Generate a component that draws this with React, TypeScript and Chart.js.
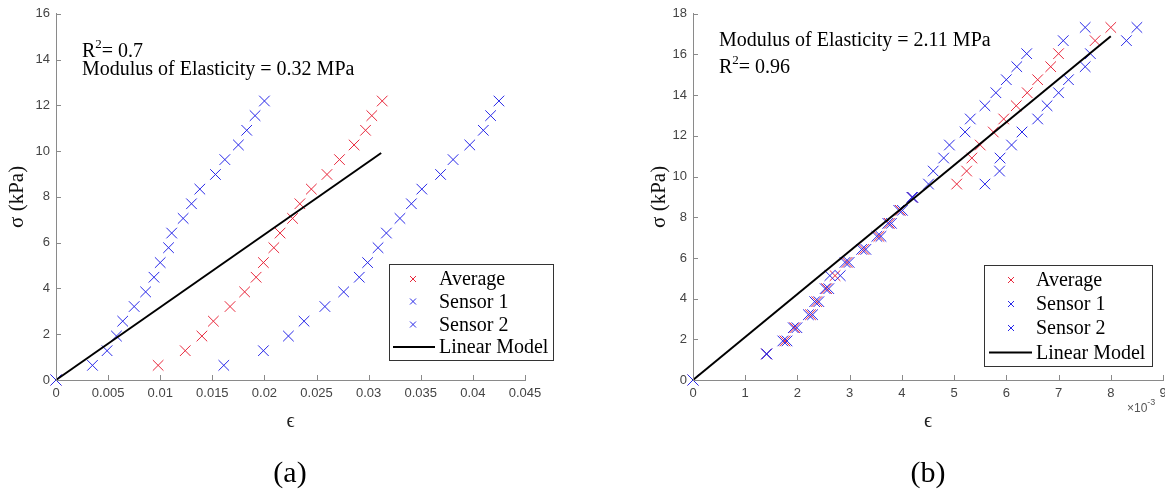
import React, { useEffect, useRef } from 'react';
import { Chart, registerables } from 'chart.js';

Chart.register(...registerables);

// ---------------- Data: panel (a) ----------------
const STRESS_A = [0, 0.64, 1.28, 1.92, 2.57, 3.21, 3.85, 4.49, 5.13, 5.78, 6.42, 7.06, 7.70, 8.34, 8.98, 9.63, 10.27, 10.91, 11.55, 12.19];
const STRAIN_AVG_A = [0, 0.0098, 0.0124, 0.0140, 0.0151, 0.0167, 0.0181, 0.0192, 0.0199, 0.0209, 0.0215, 0.0227, 0.0234, 0.0245, 0.0260, 0.0272, 0.0286, 0.0297, 0.0303, 0.0313];
const STRAIN_S1_A = [0, 0.0035, 0.0049, 0.0058, 0.0064, 0.0075, 0.0086, 0.0094, 0.0100, 0.0108, 0.0111, 0.0122, 0.0130, 0.0138, 0.0153, 0.0162, 0.0175, 0.0183, 0.0191, 0.0200];
const STRAIN_S2_A = [0, 0.0161, 0.0199, 0.0223, 0.0238, 0.0258, 0.0276, 0.0291, 0.0299, 0.0309, 0.0317, 0.0330, 0.0341, 0.0351, 0.0369, 0.0381, 0.0397, 0.0410, 0.0417, 0.0425];
const FIT_STRAIN_A = [0, 0.0312];
const FIT_STRESS_A = [0, 9.92];
const X_TICKS_A = [0, 0.005, 0.01, 0.015, 0.02, 0.025, 0.03, 0.035, 0.04, 0.045];
const Y_TICKS_A = [0, 2, 4, 6, 8, 10, 12, 14, 16];

// ---------------- Data: panel (b) (strain in units of 10^-3) ----------------
const STRESS_B = [0, 1.28, 1.92, 2.57, 3.21, 3.85, 4.49, 5.13, 5.78, 6.42, 7.06, 7.70, 8.34, 8.98, 9.63, 10.27, 10.91, 11.55, 12.19, 12.83, 13.48, 14.12, 14.76, 15.40, 16.04, 16.68, 17.33];
const STRAIN_AVG_B = [0, 1.41, 1.76, 1.95, 2.25, 2.37, 2.56, 2.72, 2.95, 3.27, 3.56, 3.76, 3.97, 4.20, 5.05, 5.24, 5.34, 5.50, 5.75, 5.95, 6.19, 6.40, 6.60, 6.85, 7.00, 7.70, 8.00];
const STRAIN_S1_B = [0, 1.41, 1.72, 1.92, 2.21, 2.33, 2.53, 2.62, 2.91, 3.23, 3.52, 3.73, 3.94, 4.19, 4.51, 4.60, 4.80, 4.91, 5.21, 5.31, 5.59, 5.80, 6.00, 6.20, 6.39, 7.09, 7.51];
const STRAIN_S2_B = [0, 1.41, 1.80, 1.99, 2.29, 2.41, 2.60, 2.82, 2.99, 3.31, 3.60, 3.80, 4.01, 4.21, 5.59, 5.87, 5.88, 6.10, 6.30, 6.60, 6.78, 7.00, 7.19, 7.51, 7.61, 8.30, 8.50];
const FIT_STRAIN_B = [0, 8.0];
const FIT_STRESS_B = [0, 16.9];
const X_TICKS_B = [0, 1, 2, 3, 4, 5, 6, 7, 8, 9];
const Y_TICKS_B = [0, 2, 4, 6, 8, 10, 12, 14, 16, 18];

const LEGEND_LABELS = ['Average', 'Sensor 1', 'Sensor 2', 'Linear Model'];
const Y_TITLE = 'σ (kPa)';
const X_TITLE = 'ϵ';

// ---------------- Styles ----------------
const RED = 'rgb(232,40,60)';
const BLUE = 'rgb(40,40,232)';
const AXIS_COLOR = '#8a8a8a';
const TICK_COLOR = '#444';
const SERIF = '"Liberation Serif", "DejaVu Serif", "Times New Roman", serif';
const SANS = '"Liberation Sans", Arial, sans-serif';

type Seg = { t: string; sup?: boolean };
type Ann = { dx: number; y: number; segs: Seg[] };
type LegendSpec = { box: [number, number, number, number]; rows: number[]; markerX: number; lineX: [number, number]; textX: number };

function drawSegs(ctx: CanvasRenderingContext2D, x: number, y: number, segs: Seg[], size: number, supSize: number, rise: number) {
  let cx = x;
  for (const s of segs) {
    ctx.font = `${s.sup ? supSize : size}px ${SERIF}`;
    ctx.fillText(s.t, cx, s.sup ? y - rise : y);
    cx += ctx.measureText(s.t).width;
  }
}

function drawX(ctx: CanvasRenderingContext2D, x: number, y: number, h: number) {
  ctx.moveTo(x - h, y - h);
  ctx.lineTo(x + h, y + h);
  ctx.moveTo(x + h, y - h);
  ctx.lineTo(x - h, y + h);
}

function makeDecor(anns: Ann[], legend: LegendSpec, exponent: boolean) {
  return {
    id: 'decor',
    afterDraw(chart: any) {
      const ctx: CanvasRenderingContext2D = chart.ctx;
      const { left, bottom } = chart.chartArea;
      const xs = chart.scales.x;
      const ys = chart.scales.y;
      ctx.save();
      // inward tick marks
      ctx.strokeStyle = AXIS_COLOR;
      ctx.lineWidth = 1;
      ctx.beginPath();
      xs.ticks.forEach((t: any) => {
        const px = Math.round(xs.getPixelForValue(t.value)) + 0.5;
        ctx.moveTo(px, bottom);
        ctx.lineTo(px, bottom - 5);
      });
      ys.ticks.forEach((t: any) => {
        const py = Math.round(ys.getPixelForValue(t.value)) + 0.5;
        ctx.moveTo(left, py);
        ctx.lineTo(left + 5, py);
      });
      ctx.stroke();

      // annotations
      ctx.fillStyle = '#000';
      ctx.textBaseline = 'alphabetic';
      ctx.textAlign = 'left';
      anns.forEach((a) => drawSegs(ctx, left + a.dx, a.y, a.segs, 20, 13, 9));

      // exponent label
      if (exponent) {
        ctx.fillStyle = '#555';
        ctx.font = `12px ${SANS}`;
        const ex = chart.chartArea.right - 36;
        ctx.fillText('×10', ex, 412);
        const w = ctx.measureText('×10').width;
        ctx.font = `9px ${SANS}`;
        ctx.fillText('-3', ex + w, 405);
      }

      // legend
      const [x1, y1, x2, y2] = legend.box;
      ctx.fillStyle = '#fff';
      ctx.fillRect(x1, y1, x2 - x1, y2 - y1);
      ctx.strokeStyle = '#333';
      ctx.lineWidth = 1;
      ctx.strokeRect(x1 + 0.5, y1 + 0.5, x2 - x1, y2 - y1);
      const colors = [RED, BLUE, BLUE];
      legend.rows.forEach((ry, i) => {
        if (i < 3) {
          ctx.strokeStyle = colors[i];
          ctx.lineWidth = 1;
          ctx.beginPath();
          drawX(ctx, legend.markerX, ry, 3);
          ctx.stroke();
        } else {
          ctx.strokeStyle = '#000';
          ctx.lineWidth = 2;
          ctx.beginPath();
          ctx.moveTo(legend.lineX[0], ry);
          ctx.lineTo(legend.lineX[1], ry);
          ctx.stroke();
        }
        ctx.fillStyle = '#000';
        ctx.font = `20px ${SERIF}`;
        ctx.textBaseline = 'middle';
        ctx.fillText(LEGEND_LABELS[i], legend.textX, ry + 1);
      });
      ctx.restore();
    },
  };
}

function crossSet(label: string, xs: number[], ys: number[], color: string, order: number) {
  return {
    label,
    data: xs.map((x, i) => ({ x, y: ys[i] })),
    showLine: false,
    pointStyle: 'crossRot',
    pointRadius: 7.5,
    pointHoverRadius: 7.5,
    pointBorderWidth: 1,
    pointBorderColor: color,
    pointBackgroundColor: 'rgba(0,0,0,0)',
    borderColor: color,
    backgroundColor: color,
    clip: false,
    order,
  };
}

type PanelSpec = {
  stress: number[]; avg: number[]; s1: number[]; s2: number[];
  fitX: number[]; fitY: number[];
  xTicks: number[]; yTicks: number[];
  yAxisWidth: number; padRight: number; yTitlePad: number;
  anns: Ann[]; legend: LegendSpec; exponent: boolean;
};

function buildConfig(p: PanelSpec): any {
  const fmt = (v: any) => String(parseFloat(Number(v).toFixed(4)));
  return {
    type: 'scatter',
    data: {
      datasets: [
        crossSet(LEGEND_LABELS[0], p.avg, p.stress, RED, 3),
        crossSet(LEGEND_LABELS[1], p.s1, p.stress, BLUE, 2),
        crossSet(LEGEND_LABELS[2], p.s2, p.stress, BLUE, 1),
        {
          label: LEGEND_LABELS[3],
          data: p.fitX.map((x, i) => ({ x, y: p.fitY[i] })),
          showLine: true,
          borderColor: '#000',
          borderWidth: 2,
          pointRadius: 0,
          clip: false,
          order: 0,
        },
      ],
    },
    options: {
      responsive: false,
      animation: false,
      events: [],
      layout: { padding: { left: 0, right: p.padRight, top: 11, bottom: 0 } },
      plugins: { legend: { display: false }, tooltip: { enabled: false } },
      scales: {
        x: {
          type: 'linear',
          min: p.xTicks[0],
          max: p.xTicks[p.xTicks.length - 1],
          afterBuildTicks: (s: any) => { s.ticks = p.xTicks.map((v) => ({ value: v })); },
          afterFit: (s: any) => { s.height = 121; },
          grid: { display: false, drawTicks: false },
          border: { display: true, color: AXIS_COLOR, width: 1 },
          ticks: { autoSkip: false, maxRotation: 0, padding: 6, color: TICK_COLOR, font: { family: SANS, size: 13 }, callback: fmt },
          title: { display: true, text: X_TITLE, color: '#222', font: { family: SERIF, size: 20 }, padding: { top: 0, bottom: 67 } },
        },
        y: {
          type: 'linear',
          min: p.yTicks[0],
          max: p.yTicks[p.yTicks.length - 1],
          afterBuildTicks: (s: any) => { s.ticks = p.yTicks.map((v) => ({ value: v })); },
          afterFit: (s: any) => { s.width = p.yAxisWidth; },
          grid: { display: false, drawTicks: false },
          border: { display: true, color: AXIS_COLOR, width: 1 },
          ticks: { autoSkip: false, padding: 6, color: TICK_COLOR, font: { family: SANS, size: 13 }, callback: fmt },
          title: { display: true, text: Y_TITLE, color: '#111', font: { family: SERIF, size: 21 }, padding: { top: p.yTitlePad, bottom: 0 } },
        },
      },
    },
    plugins: [makeDecor(p.anns, p.legend, p.exponent)],
  };
}

const PANEL_A: PanelSpec = {
  stress: STRESS_A, avg: STRAIN_AVG_A, s1: STRAIN_S1_A, s2: STRAIN_S2_A,
  fitX: FIT_STRAIN_A, fitY: FIT_STRESS_A,
  xTicks: X_TICKS_A, yTicks: Y_TICKS_A,
  yAxisWidth: 56, padRight: 55, yTitlePad: 5,
  anns: [
    { dx: 26, y: 57, segs: [{ t: 'R' }, { t: '2', sup: true }, { t: '= 0.7' }] },
    { dx: 26, y: 75, segs: [{ t: 'Modulus of Elasticity = 0.32 MPa' }] },
  ],
  legend: { box: [389, 264, 553, 360], rows: [279, 301.5, 324.5, 347], markerX: 413, lineX: [393, 435], textX: 439 },
  exponent: false,
};

const PANEL_B: PanelSpec = {
  stress: STRESS_B, avg: STRAIN_AVG_B, s1: STRAIN_S1_B, s2: STRAIN_S2_B,
  fitX: FIT_STRAIN_B, fitY: FIT_STRESS_B,
  xTicks: X_TICKS_B, yTicks: Y_TICKS_B,
  yAxisWidth: 113, padRight: 17, yTitlePad: 67,
  anns: [
    { dx: 26, y: 46, segs: [{ t: 'Modulus of Elasticity = 2.11 MPa' }] },
    { dx: 26, y: 73, segs: [{ t: 'R' }, { t: '2', sup: true }, { t: '= 0.96' }] },
  ],
  legend: { box: [404, 265, 572, 366], rows: [280, 304, 328, 352.5], markerX: 431, lineX: [409, 452], textX: 456 },
  exponent: true,
};

const captionStyle = (cx: number): React.CSSProperties => ({
  position: 'absolute',
  left: cx - 60,
  top: 454,
  width: 120,
  textAlign: 'center',
  fontFamily: SERIF,
  fontSize: 30,
  lineHeight: '36px',
  color: '#000',
});

export default function App() {
  const refA = useRef<HTMLCanvasElement>(null);
  const refB = useRef<HTMLCanvasElement>(null);
  useEffect(() => {
    const a = new Chart(refA.current as HTMLCanvasElement, buildConfig(PANEL_A));
    const b = new Chart(refB.current as HTMLCanvasElement, buildConfig(PANEL_B));
    return () => {
      a.destroy();
      b.destroy();
    };
  }, []);
  return (
    <div style={{ position: 'absolute', left: 0, top: 0, width: 1165, height: 501, overflow: 'hidden', background: '#fff' }}>
      <canvas ref={refA} width={580} height={501} style={{ position: 'absolute', left: 0, top: 0 }} />
      <canvas ref={refB} width={600} height={501} style={{ position: 'absolute', left: 580, top: 0 }} />
      <div style={captionStyle(290)}>(a)</div>
      <div style={captionStyle(928)}>(b)</div>
    </div>
  );
}
